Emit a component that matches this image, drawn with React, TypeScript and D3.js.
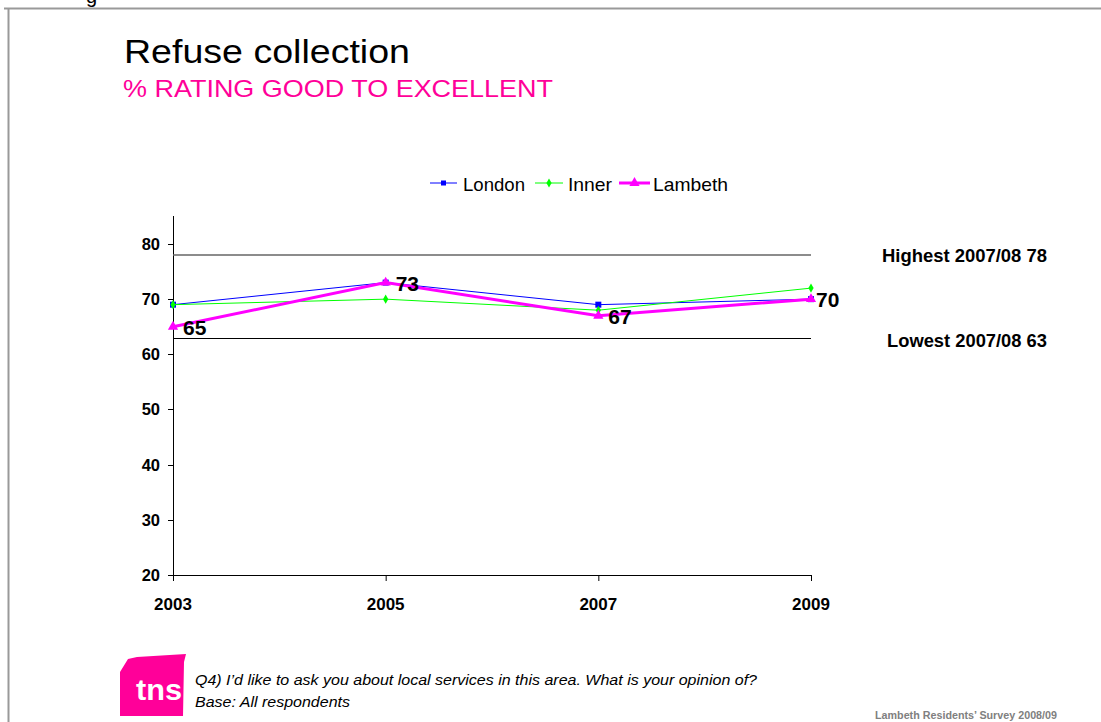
import React from "react";
import * as d3 from "d3";

const years = ["2003", "2005", "2007", "2009"];
const london = [69, 73, 69, 70];
const inner = [69, 70, 68, 72];
const lambeth = [65, 73, 67, 70];
const yTicks = [20, 30, 40, 50, 60, 70, 80];
const highest = 78;
const lowest = 63;
const highestLabel = "Highest 2007/08 78";
const lowestLabel = "Lowest 2007/08 63";

const W = 1101;
const H = 722;
const FONT = "Liberation Sans, Arial, sans-serif";

export default function App() {
  const x = d3.scalePoint<string>().domain(years).range([173, 811]);
  const y = d3.scaleLinear().domain([20, 85]).range([575, 216.4]);
  const line = d3
    .line<number>()
    .x((_, i) => x(years[i]) as number)
    .y((d) => y(d));

  const tri = d3.symbol().type(d3.symbolTriangle).size(45)() as string;
  const diamond = d3.symbol().type(d3.symbolDiamond).size(24)() as string;

  return (
    <svg
      width={W}
      height={H}
      style={{ position: "absolute", left: 0, top: 0, background: "#fff" }}
      fontFamily={FONT}
    >
      <rect x={0} y={0} width={W} height={H} fill="#fff" />
      {/* partial glyph at top */}
      <text x={86} y={3} fontSize={20} fill="#000">g</text>
      {/* frame */}
      <line x1={4} x2={W} y1={8.5} y2={8.5} stroke="#999" strokeWidth={2} />
      <line x1={8.5} x2={8.5} y1={8} y2={H} stroke="#999" strokeWidth={2} />

      {/* titles */}
      <text x={124} y={63} fontSize={33} fill="#000" textLength={286} lengthAdjust="spacingAndGlyphs">Refuse collection</text>
      <text x={123} y={97} fontSize={24.5} fill="#FF0099" textLength={430} lengthAdjust="spacingAndGlyphs">% RATING GOOD TO EXCELLENT</text>

      {/* legend */}
      <g fontSize={18.5} fill="#000">
        <line x1={430} x2={457} y1={183} y2={183} stroke="#0000FF" strokeWidth={1} />
        <rect x={441} y={180.5} width={5} height={5} fill="#0000FF" />
        <text x={463} y={191} textLength={62} lengthAdjust="spacingAndGlyphs">London</text>
        <line x1={535} x2={563} y1={183} y2={183} stroke="#00FF00" strokeWidth={1} />
        <path d={diamond} transform="translate(549,183)" fill="#00FF00" />
        <text x={568} y={191} textLength={44} lengthAdjust="spacingAndGlyphs">Inner</text>
        <line x1={619} x2={650} y1={183} y2={183} stroke="#FF00FF" strokeWidth={3} />
        <path d={tri} transform="translate(634.5,183)" fill="#FF00FF" />
        <text x={653} y={191} textLength={75} lengthAdjust="spacingAndGlyphs">Lambeth</text>
      </g>

      {/* axes */}
      <line x1={173.5} x2={173.5} y1={216} y2={575} stroke="#000" strokeWidth={1} />
      <line x1={173} x2={811} y1={575.5} y2={575.5} stroke="#000" strokeWidth={1} />
      {yTicks.map((t) => (
        <g key={t}>
          <line x1={168} x2={173} y1={Math.round(y(t)) + 0.5} y2={Math.round(y(t)) + 0.5} stroke="#000" />
          <text x={160} y={y(t) + 6} textAnchor="end" fontSize={16.5} fontWeight="bold">{t}</text>
        </g>
      ))}
      {years.map((yr) => (
        <g key={yr}>
          <line x1={(x(yr) as number) + 0.5} x2={(x(yr) as number) + 0.5} y1={575} y2={581} stroke="#000" />
          <text x={x(yr) as number} y={610} textAnchor="middle" fontSize={17} fontWeight="bold">{yr}</text>
        </g>
      ))}

      {/* reference lines */}
      <line x1={173} x2={811} y1={y(highest)} y2={y(highest)} stroke="#666" strokeWidth={1.5} />
      <line x1={173} x2={811} y1={Math.round(y(lowest)) + 0.5} y2={Math.round(y(lowest)) + 0.5} stroke="#000" strokeWidth={1} />
      <text x={1047} y={261.5} textAnchor="end" fontSize={18} fontWeight="bold" textLength={165} lengthAdjust="spacingAndGlyphs">{highestLabel}</text>
      <text x={1047} y={346.5} textAnchor="end" fontSize={18} fontWeight="bold" textLength={160} lengthAdjust="spacingAndGlyphs">{lowestLabel}</text>

      {/* series */}
      <path d={line(london) as string} fill="none" stroke="#0000FF" strokeWidth={1} />
      {london.map((v, i) => (
        <rect key={i} x={(x(years[i]) as number) - 3} y={y(v) - 3} width={6} height={6} fill="#0000FF" />
      ))}
      <path d={line(inner) as string} fill="none" stroke="#00FF00" strokeWidth={1} />
      {inner.map((v, i) => (
        <path key={i} d={diamond} transform={`translate(${x(years[i])},${y(v)})`} fill="#00FF00" />
      ))}
      <path d={line(lambeth) as string} fill="none" stroke="#FF00FF" strokeWidth={3} />
      {lambeth.map((v, i) => (
        <path key={i} d={tri} transform={`translate(${x(years[i])},${y(v)})`} fill="#FF00FF" />
      ))}
      {lambeth.map((v, i) => (
        <text key={i} x={(x(years[i]) as number) + (i === years.length - 1 ? 5 : 10)} y={y(v) + 8} fontSize={21} fontWeight="bold">{v}</text>
      ))}

      {/* footer */}
      <g>
        <path d="M128,659 L137,657 L186,654 L184,662 L183,716 L120,716 L120,672 Z" fill="#FF0099" />
        <text x={136} y={700} fontSize={29} fontWeight="bold" fill="#fff" textLength={46} lengthAdjust="spacingAndGlyphs">tns</text>
      </g>
      <text x={195} y={685} fontSize={14.5} fontStyle="italic" textLength={562} lengthAdjust="spacingAndGlyphs">Q4) I’d like to ask you about local services in this area. What is your opinion of?</text>
      <text x={195} y={707} fontSize={14.5} fontStyle="italic" textLength={155} lengthAdjust="spacingAndGlyphs">Base: All respondents</text>
      <text x={1057} y={719} textAnchor="end" fontSize={10} fontWeight="bold" fill="#808080" textLength={182} lengthAdjust="spacingAndGlyphs">Lambeth Residents’ Survey 2008/09</text>
    </svg>
  );
}
